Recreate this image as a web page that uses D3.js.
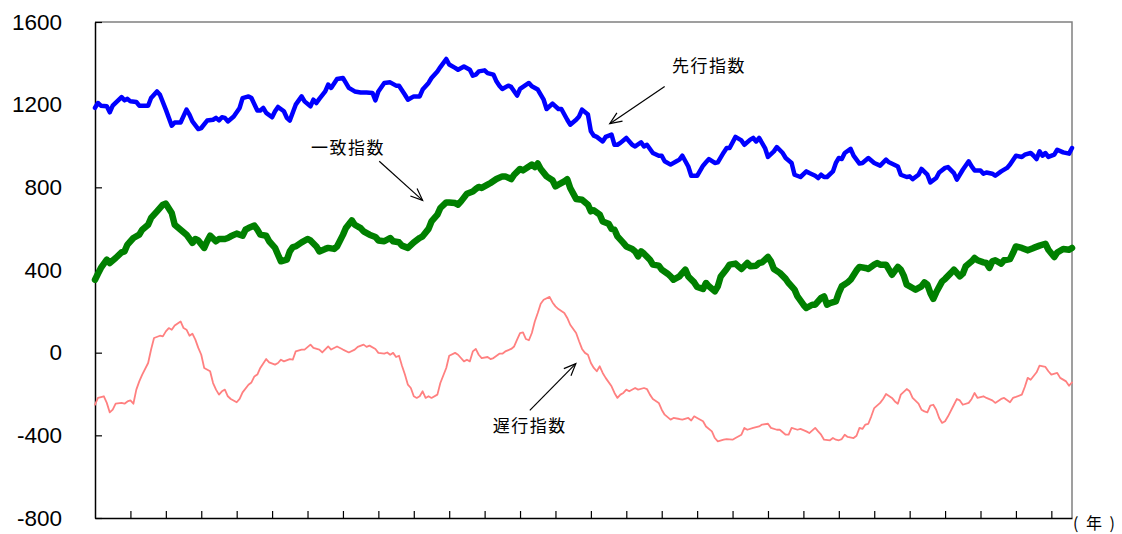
<!DOCTYPE html>
<html>
<head>
<meta charset="utf-8">
<script src="https://cdn.jsdelivr.net/npm/d3@7"></script>
<style>
  body { margin: 0; background: #fff; }
  .ytick text { font-family: "Liberation Sans", Arial, sans-serif; font-size: 22.5px; fill: #000; }
  .note { font-family: "Noto Sans CJK JP", sans-serif; font-size: 17px; letter-spacing: 1.5px; fill: #000; }
</style>
</head>
<body>
<div id="chart"></div>
<script>
// months since start, value
var leading = [[0,1185],[1,1208],[2,1195],[4,1192],[5,1163],[6,1195],[9,1237],[10,1221],[11,1228],[12,1216],[14,1213],[15,1195],[18,1195],[19,1232],[21,1264],[22,1248],[24,1176],[26,1098],[27,1114],[29,1114],[31,1176],[32,1152],[33,1119],[35,1082],[36,1087],[38,1123],[40,1127],[41,1136],[42,1124],[43,1139],[44,1136],[45,1119],[47,1143],[49,1184],[50,1232],[52,1240],[53,1232],[55,1172],[56,1172],[57,1184],[58,1160],[60,1139],[61,1168],[62,1189],[64,1168],[65,1136],[66,1123],[68,1200],[70,1240],[71,1216],[73,1192],[74,1224],[75,1208],[76,1228],[78,1264],[79,1297],[80,1281],[82,1324],[84,1329],[85,1305],[86,1281],[88,1264],[90,1259],[92,1259],[94,1257],[95,1221],[96,1264],[98,1305],[100,1308],[102,1292],[103,1292],[105,1248],[106,1224],[108,1240],[110,1240],[111,1273],[113,1305],[114,1329],[116,1361],[117,1382],[119,1421],[120,1394],[122,1378],[123,1369],[125,1385],[127,1369],[128,1340],[129,1345],[130,1361],[132,1366],[133,1353],[135,1345],[136,1313],[137,1292],[138,1276],[140,1292],[141,1286],[143,1244],[144,1276],[145,1286],[147,1305],[148,1289],[150,1273],[152,1224],[153,1179],[155,1205],[157,1179],[158,1179],[160,1127],[161,1103],[163,1127],[164,1143],[165,1176],[167,1152],[168,1071],[169,1050],[170,1044],[172,1022],[173,1044],[175,1055],[176,1006],[177,1006],[178,1015],[180,1039],[182,1006],[183,998],[185,1018],[186,998],[187,1006],[189,966],[191,953],[192,953],[193,926],[195,910],[197,926],[198,934],[199,953],[201,901],[202,856],[204,856],[206,905],[207,921],[208,937],[210,918],[211,921],[213,969],[214,990],[215,990],[217,1044],[219,1027],[220,1006],[222,1031],[223,1039],[224,1022],[225,1039],[227,990],[228,947],[230,974],[231,995],[233,966],[234,942],[236,918],[237,861],[239,850],[241,877],[242,869],[244,856],[245,845],[246,861],[247,850],[248,850],[250,877],[251,918],[252,942],[253,937],[254,966],[256,986],[257,953],[259,915],[260,918],[262,942],[264,918],[266,905],[268,934],[269,921],[272,901],[273,861],[275,850],[276,853],[277,840],[279,861],[280,889],[282,861],[283,824],[285,845],[286,872],[288,894],[289,898],[291,869],[292,837],[294,885],[296,926],[297,901],[298,882],[300,882],[301,866],[302,872],[304,866],[305,856],[307,877],[309,894],[310,910],[312,953],[314,947],[315,958],[317,966],[318,953],[319,937],[320,974],[321,953],[322,966],[323,947],[325,958],[326,982],[328,969],[330,963],[331,990]];

var coincident = [[0,353],[1,382],[2,410],[4,450],[5,434],[7,458],[9,485],[10,490],[11,523],[13,555],[15,571],[16,595],[18,619],[19,652],[21,684],[23,716],[24,721],[26,676],[27,619],[29,595],[31,571],[33,531],[34,550],[35,543],[37,507],[38,539],[39,566],[41,539],[42,550],[44,550],[45,555],[46,563],[48,576],[50,566],[51,595],[52,603],[54,615],[55,595],[56,571],[58,566],[59,539],[61,507],[62,474],[63,442],[65,450],[66,490],[67,511],[68,514],[70,534],[72,550],[73,543],[75,514],[76,490],[78,502],[79,507],[81,502],[82,514],[84,570],[85,603],[87,640],[88,619],[90,603],[91,587],[93,571],[95,560],[96,543],[98,539],[100,555],[101,539],[103,534],[104,518],[106,507],[108,534],[110,555],[111,563],[113,599],[114,635],[116,668],[117,700],[119,727],[120,727],[122,724],[123,716],[124,732],[126,769],[128,780],[129,792],[130,802],[131,797],[133,813],[134,821],[136,840],[138,853],[139,853],[141,840],[142,861],[144,889],[145,882],[147,901],[148,910],[149,898],[150,915],[151,889],[153,853],[155,834],[156,805],[157,813],[159,829],[160,839],[161,797],[163,744],[165,740],[167,716],[168,684],[169,689],[171,668],[172,635],[174,624],[175,599],[176,595],[177,563],[179,531],[180,514],[182,502],[183,490],[184,466],[185,490],[186,479],[188,450],[189,426],[191,421],[192,402],[194,382],[195,369],[196,353],[198,369],[199,386],[200,402],[201,369],[203,340],[204,318],[206,308],[207,337],[208,321],[210,297],[211,321],[212,369],[214,405],[215,426],[217,431],[218,418],[219,405],[221,434],[222,418],[224,421],[225,434],[226,437],[228,463],[229,442],[230,405],[232,386],[234,357],[235,337],[237,305],[238,272],[240,232],[241,216],[243,232],[244,232],[246,265],[247,272],[248,232],[249,240],[251,248],[252,289],[253,321],[255,340],[256,353],[258,398],[259,415],[261,410],[262,405],[264,426],[265,434],[266,426],[268,426],[269,402],[270,377],[272,415],[273,402],[274,373],[275,329],[277,313],[278,305],[280,321],[281,340],[282,329],[283,289],[284,260],[285,292],[287,345],[288,357],[290,386],[291,402],[293,369],[294,382],[295,418],[297,442],[298,458],[299,447],[301,437],[302,434],[303,410],[304,442],[305,447],[307,431],[308,447],[310,453],[311,482],[312,514],[314,507],[316,495],[318,507],[320,518],[322,527],[323,498],[325,463],[326,485],[328,502],[330,498],[331,507]];

var lagging = [[0,-252],[1,-219],[3,-211],[4,-243],[5,-289],[6,-276],[7,-247],[9,-243],[10,-247],[11,-236],[12,-231],[13,-247],[14,-179],[15,-139],[16,-106],[18,-50],[19,15],[20,71],[22,82],[23,79],[24,103],[25,119],[26,111],[27,131],[29,151],[30,119],[31,111],[32,82],[33,92],[34,63],[35,23],[36,-10],[37,-74],[39,-90],[40,-147],[41,-179],[42,-203],[43,-187],[44,-179],[45,-211],[46,-224],[48,-240],[49,-224],[50,-192],[52,-155],[53,-144],[54,-115],[55,-106],[56,-74],[58,-31],[59,-47],[61,-58],[62,-50],[63,-34],[64,-42],[66,-31],[67,-34],[68,6],[70,15],[71,15],[73,39],[74,23],[76,15],[77,1],[79,30],[80,15],[82,30],[84,15],[86,1],[88,15],[89,28],[91,39],[92,28],[93,34],[95,18],[96,-1],[98,-5],[99,1],[100,-10],[101,-1],[102,-21],[103,-15],[104,-63],[105,-106],[106,-155],[107,-171],[108,-211],[109,-219],[110,-211],[111,-187],[112,-219],[113,-211],[114,-219],[116,-203],[117,-147],[119,-74],[120,-15],[122,-1],[123,-10],[125,-42],[126,-34],[127,-42],[128,6],[129,18],[130,-10],[131,-26],[133,-21],[134,-31],[135,-26],[137,-5],[138,-5],[139,6],[141,18],[142,30],[143,63],[144,95],[145,98],[146,66],[147,60],[148,95],[149,151],[150,192],[151,237],[152,256],[154,270],[155,243],[156,224],[157,211],[159,192],[160,168],[161,135],[163,95],[164,55],[165,18],[166,-1],[167,-10],[168,-50],[169,-74],[170,-90],[171,-66],[172,-98],[173,-122],[175,-163],[176,-195],[177,-219],[178,-203],[179,-195],[180,-179],[181,-187],[183,-171],[184,-179],[186,-171],[187,-176],[188,-203],[189,-224],[191,-243],[192,-276],[193,-300],[195,-324],[196,-316],[198,-321],[199,-324],[201,-316],[202,-328],[203,-308],[204,-316],[206,-332],[207,-357],[209,-381],[210,-413],[211,-429],[213,-421],[214,-418],[216,-421],[217,-413],[219,-397],[220,-364],[221,-373],[223,-364],[225,-357],[226,-348],[228,-344],[229,-364],[231,-373],[232,-373],[234,-397],[235,-397],[236,-364],[238,-373],[239,-369],[241,-381],[242,-389],[244,-364],[245,-381],[246,-397],[247,-421],[249,-424],[250,-413],[251,-421],[252,-424],[253,-418],[254,-397],[255,-408],[257,-413],[258,-402],[259,-364],[260,-369],[261,-348],[262,-344],[263,-308],[264,-268],[266,-243],[267,-224],[268,-200],[270,-219],[271,-236],[272,-247],[273,-203],[275,-176],[276,-187],[277,-219],[279,-247],[280,-276],[281,-284],[282,-289],[283,-256],[284,-252],[285,-276],[286,-316],[287,-340],[288,-332],[289,-308],[291,-252],[292,-224],[293,-231],[294,-252],[296,-243],[297,-224],[298,-195],[299,-219],[301,-211],[302,-219],[304,-231],[305,-243],[307,-224],[308,-219],[310,-240],[311,-219],[312,-214],[314,-203],[315,-166],[316,-122],[317,-131],[319,-95],[320,-63],[322,-69],[323,-90],[324,-106],[326,-98],[327,-122],[329,-139],[330,-160],[331,-144]];

var yTicks = [-800, -400, 0, 400, 800, 1200, 1600];
var yearTicks = d3.range(12, 331, 12);   // one tick per year
var xLabel = "( 年 )";

// label text, label pos [month, value], arrow from, arrow to
var notes = [
  { text: "先行指数", at: [208, 1389], from: [193, 1288], to: [174.4, 1108] },
  { text: "一致指数", at: [85.7, 992], from: [96.3, 926], to: [111, 737] },
  { text: "遅行指数", at: [147.3, -353], from: [147.3, -279], to: [162.9, -53] }
];

var W = 1122, H = 534;
var margin = {top: 22, right: 50, bottom: 16, left: 95};
var width = W - margin.left - margin.right,
    height = H - margin.top - margin.bottom;

var svg = d3.select("#chart").append("svg")
    .attr("width", W)
    .attr("height", H)
  .append("g")
    .attr("transform", "translate(" + margin.left + "," + margin.top + ")");

var x = d3.scaleLinear().domain([0, 331]).range([0, width]);
var y = d3.scaleLinear().domain([-800, 1600]).range([height, 0]);

// top and right frame (grey)
svg.append("path")
    .attr("d", "M0,0H" + width + "V" + height)
    .attr("fill", "none")
    .attr("stroke", "#808080")
    .attr("stroke-width", 1.5);

// y axis, ticks point inward, plain hyphen for negatives
var yAxis = svg.append("g")
    .attr("class", "ytick")
    .call(d3.axisLeft(y).tickValues(yTicks)
      .tickFormat(function(d) { return String(d); })
      .tickSize(-7).tickSizeOuter(0).tickPadding(33));
yAxis.select(".domain").attr("stroke", "#000").attr("stroke-width", 1.5);
yAxis.selectAll(".tick line").attr("stroke", "#000").attr("stroke-width", 1.2);

// x axis, no labels
var xAxis = svg.append("g")
    .attr("transform", "translate(0," + height + ")")
    .call(d3.axisBottom(x).tickValues(yearTicks).tickSize(-7).tickSizeOuter(0).tickFormat(""));
xAxis.select(".domain").attr("stroke", "#000").attr("stroke-width", 1.5);
xAxis.selectAll(".tick line").attr("stroke", "#000").attr("stroke-width", 1.2);

svg.append("text")
    .attr("x", width + 1)
    .attr("y", height + 5)
    .attr("dy", "0.35em")
    .style("font-family", "\"Noto Sans CJK JP\", sans-serif")
    .style("font-size", "16px")
    .style("letter-spacing", "2px")
    .text(xLabel);

var line = d3.line()
    .x(function(d) { return x(d[0]); })
    .y(function(d) { return y(d[1]); });

var series = [
  { data: lagging, color: "#ff8080", w: 1.8 },
  { data: coincident, color: "#008000", w: 6.5 },
  { data: leading, color: "#0000ff", w: 4.5 }
];

series.forEach(function(s) {
  svg.append("path")
      .datum(s.data)
      .attr("fill", "none")
      .attr("stroke", s.color)
      .attr("stroke-width", s.w)
      .attr("stroke-linejoin", "round")
      .attr("stroke-linecap", "round")
      .attr("d", line);
});

// arrow head
svg.append("defs").append("marker")
    .attr("id", "arrow")
    .attr("markerUnits", "userSpaceOnUse")
    .attr("viewBox", "-14 -7 16 14")
    .attr("markerWidth", 16)
    .attr("markerHeight", 14)
    .attr("refX", 0)
    .attr("refY", 0)
    .attr("orient", "auto")
  .append("path")
    .attr("d", "M-12,-5L0,0L-12,5")
    .attr("fill", "none")
    .attr("stroke", "#000")
    .attr("stroke-width", 1.2);

notes.forEach(function(n) {
  svg.append("line")
      .attr("x1", x(n.from[0])).attr("y1", y(n.from[1]))
      .attr("x2", x(n.to[0])).attr("y2", y(n.to[1]))
      .attr("stroke", "#000")
      .attr("stroke-width", 1.2)
      .attr("marker-end", "url(#arrow)");
  svg.append("text")
      .attr("class", "note")
      .attr("x", x(n.at[0]))
      .attr("y", y(n.at[1]))
      .attr("dy", "0.35em")
      .attr("text-anchor", "middle")
      .text(n.text);
});
</script>
</body>
</html>
